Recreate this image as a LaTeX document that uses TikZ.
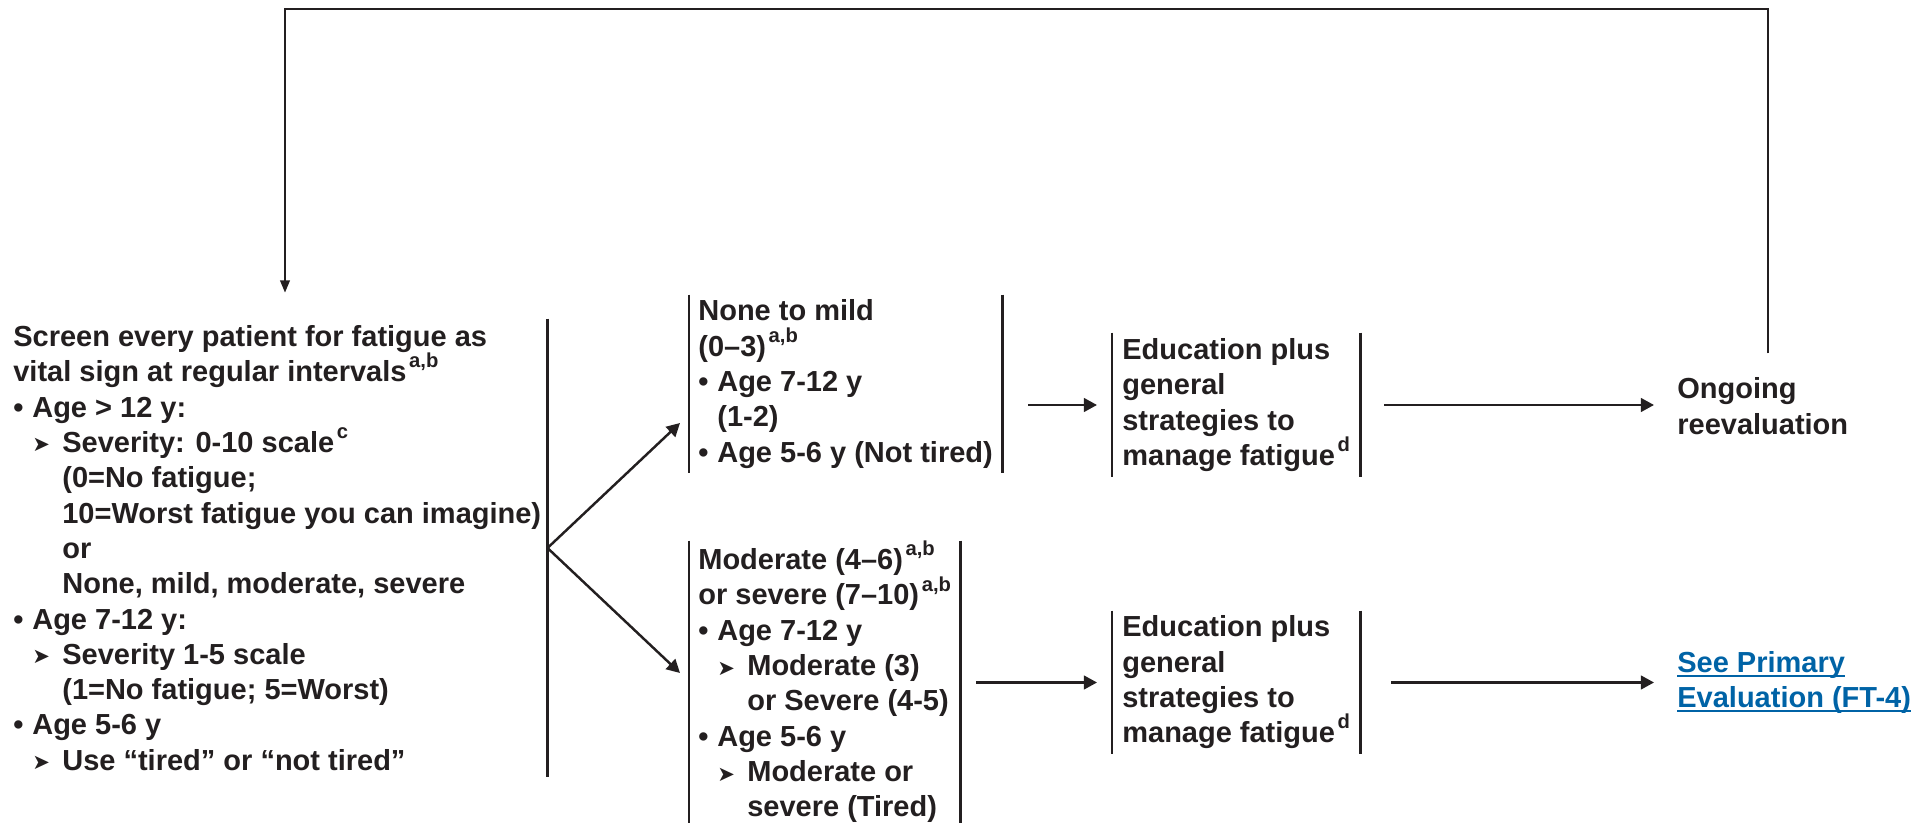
\documentclass[tikz,border=0pt]{standalone}
\usepackage{fontspec}
\setmainfont{Liberation Sans}
\newfontfamily\symfont{DejaVu Sans}
\usetikzlibrary{arrows.meta}

\definecolor{ink}{HTML}{231F20}
\definecolor{linkblue}{HTML}{0063A6}

\newcommand{\bul}{\makebox[0.38cm][l]{•}}
\newcommand{\subarr}{\hspace*{0.38cm}\makebox[0.6cm][l]{\raisebox{0.3pt}{\symfont\fontsize{12}{12}\selectfont ➤}}}
\newcommand{\indA}{\hspace*{0.38cm}}
\newcommand{\indB}{\hspace*{0.98cm}}
\newcommand{\supr}[1]{\kern1.5pt\raisebox{0.48em}{\fontsize{11.5}{11.5}\selectfont #1}}
\newcommand{\linktext}[1]{\setbox0\hbox{#1}\rlap{\rule[-2.6pt]{\wd0}{1.1pt}}\box0}

\begin{document}
\begin{tikzpicture}[
  every node/.style={font=\bfseries\fontsize{16.5}{20.1}\selectfont, text=ink},
  box/.style={align=left, anchor=west, inner ysep=0pt, inner xsep=0.18cm},
  barline/.style={ink, line width=1.5pt},
  arrowline/.style={ink, line width=1.4pt, -{Triangle[length=7.5pt,width=7.8pt]}},
  backline/.style={ink, line width=1.1pt, -{Triangle[length=7pt,width=5.5pt]}}]
\useasboundingbox (0,0) rectangle (38.58,16.48);

% screening
\node[box, inner xsep=0.12cm, minimum height=9.16cm] (screen) at (0.14,5.52)
{Screen every patient for fatigue as\\
vital sign at regular intervals\supr{a,b}\\
\bul Age > 12 y:\\
\subarr Severity: 0-10 scale\supr{c}\\
\indB(0=No fatigue;\\
\indB 10=Worst fatigue you can imagine)\\
\indB or\\
\indB None, mild, moderate, severe\\
\bul Age 7-12 y:\\
\subarr Severity 1-5 scale\\
\indB(1=No fatigue; 5=Worst)\\
\bul Age 5-6 y\\
\subarr Use “tired” or “not tired”};

% severity
\node[box, minimum height=3.56cm] (mild) at (13.78,8.80)
{None to mild\\
(0–3)\supr{a,b}\\
\bul Age 7-12 y\\
\indA(1-2)\\
\bul Age 5-6 y (Not tired)};
\node[box, minimum height=5.6cm] (modsev) at (13.78,2.84)
{Moderate (4–6)\supr{a,b}\\
or severe (7–10)\supr{a,b}\\
\bul Age 7-12 y\\
\subarr Moderate (3)\\
\indB or Severe (4-5)\\
\bul Age 5-6 y\\
\subarr Moderate or\\
\indB severe (Tired)};

% education
\node[box, inner xsep=0.2cm, minimum height=2.88cm] (edu1) at (22.24,8.38)
{Education plus\\ general\\ strategies to\\ manage fatigue\supr{d}};
\node[box, inner xsep=0.2cm, minimum height=2.86cm] (edu2) at (22.24,2.83)
{Education plus\\ general\\ strategies to\\ manage fatigue\supr{d}};

% outcomes
\node[anchor=west, inner sep=0, align=left] (ongoing) at (33.54,8.36) {Ongoing\\ reevaluation};
\node[anchor=west, inner sep=0, align=left, text=linkblue] (primary) at (33.54,2.83)
{\linktext{See Primary}\\ \linktext{Evaluation (FT-4)}};

% side bars
\draw[barline] (screen.north east) -- (screen.south east);
\foreach \n in {mild,modsev,edu1,edu2}
  \draw[barline] (\n.north west) -- (\n.south west) (\n.north east) -- (\n.south east);

% connectors
\draw[arrowline] (screen.east) -- ([shift={(-0.18,-0.78)}]mild.west);
\draw[arrowline] (screen.east) -- ([shift={(-0.18,0.18)}]modsev.west);
\draw[arrowline, shorten <=0.52cm, shorten >=0.3cm] (mild.east |- edu1.west) -- (edu1.west);
\draw[arrowline, shorten <=0.32cm, shorten >=0.3cm] (modsev.east |- edu2.west) -- (edu2.west);
\draw[arrowline, shorten <=0.48cm, shorten >=0.46cm] (edu1.east) -- (edu1.east -| ongoing.west);
\draw[arrowline, shorten <=0.62cm, shorten >=0.46cm] (edu2.east) -- (edu2.east -| primary.west);
\draw[backline] ([shift={(1.82,0.48)}]ongoing.north west) -- ++(0,6.88)
  -| ([shift={(5.56,0.52)}]screen.north west);
\end{tikzpicture}
\end{document}
